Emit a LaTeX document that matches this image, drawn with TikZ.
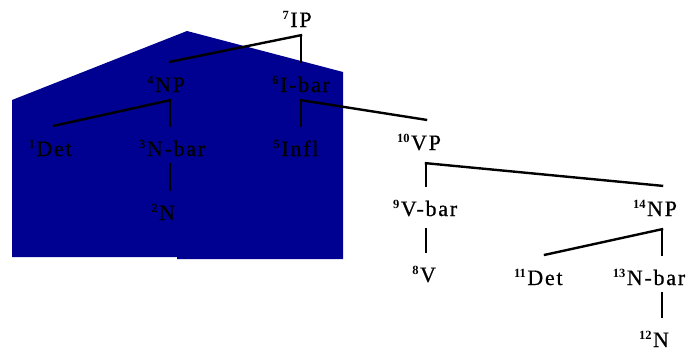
\documentclass[tikz,border=0pt]{standalone}
\usepackage{fontspec}
\setmainfont{Liberation Serif}[LetterSpace=8, FakeBold=0.6]
\newfontfamily\idxfont{Liberation Serif Bold}
\definecolor{panel}{RGB}{0,0,145}
% index number set as a superscript to the left of a category
\newcommand\catidx[1]{\llap{\raisebox{8pt}{\idxfont\fontsize{12.5}{12.5}\selectfont #1\hspace{1.5pt}}}}
\tikzset{
  cat/.style={anchor=base, inner sep=0pt, text height=30pt, text depth=8pt,
              font=\fontsize{22}{22}\selectfont},
  deep/.style={text depth=13pt},
  branch/.style={line width=2.4pt, line cap=rect}
}
\begin{document}
\begin{tikzpicture}[x=1pt,y=-1pt]
\useasboundingbox (0,0) rectangle (696,351);
\clip (0,0) rectangle (696,351);

% backdrop panel
\fill[panel] (12,100) -- (187,31) -- (343,72) -- (343,259) -- (177,259)
             -- (177,257) -- (12,257) -- cycle;

% categories
\node[cat] (ip)     at (301,27)  {\catidx{7}IP};
\node[cat] (np4)    at (170,92)  {\catidx{4}NP};
\node[cat] (ibar6)  at (305,92)  {\catidx{6}I-bar};
\node[cat] (det1)   at (54,156)  {\catidx{1}Det};
\node[cat] (nbar3)  at (176,156) {\catidx{3}N-bar};
\node[cat] (n2)     at (167,220) {\catidx{2}N};
\node[cat] (infl5)  at (300,156) {\catidx{5}Infl};
\node[cat,deep] (vp10)   at (426,150) {\catidx{10}VP};
\node[cat,deep] (vbar9)  at (429,216) {\catidx{9}V-bar};
\node[cat,deep] (np14)   at (662,216) {\catidx{14}NP};
\node[cat] (v8)     at (428,282) {\catidx{8}V};
\node[cat] (det11)  at (545,285) {\catidx{11}Det};
\node[cat] (nbar13) at (656,285) {\catidx{13}N-bar};
\node[cat] (n12)    at (661,347) {\catidx{12}N};

% branches
\draw[branch] (ip.south) -- (np4.north);
\draw[branch] (ip.south) -- (ip.south |- ibar6.north);
\draw[branch] (np4.south) -- (det1.north);
\draw[branch] (np4.south) -- (np4.south |- nbar3.north);
\draw[branch] (np4.south |- nbar3.south) -- (np4.south |- n2.north);
\draw[branch] (ip.south |- ibar6.south) -- (ip.south |- infl5.north);
\draw[branch] (ip.south |- ibar6.south) -- (vp10.north);
\draw[branch] (vp10.south) -- (vp10.south |- vbar9.north);
\draw[branch] (vp10.south) -- (np14.north);
\draw[branch] (vp10.south |- vbar9.south) -- (vp10.south |- v8.north);
\draw[branch] (np14.south) -- (det11.north);
\draw[branch] (np14.south) -- (np14.south |- nbar13.north);
\draw[branch] (np14.south |- nbar13.south) -- (np14.south |- n12.north);
\end{tikzpicture}
\end{document}
